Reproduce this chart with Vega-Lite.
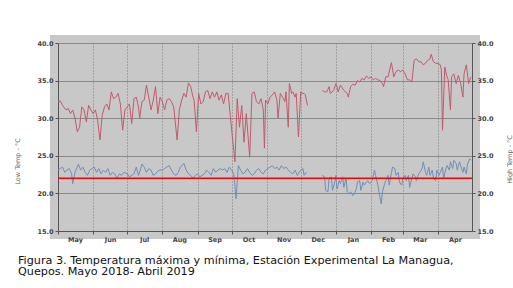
{
 "$schema": "https://vega.github.io/schema/vega-lite/v6.json",
 "width": 414,
 "height": 188,
 "autosize": {"type": "none"},
 "padding": {"left": 58, "top": 43, "right": 41, "bottom": 57},
 "background": "white",
 "view": {"fill": "#c8c8c8", "stroke": "#c8c8c8", "strokeWidth": 16},
 "title": {
  "text": ["Figura 3. Temperatura máxima y mínima, Estación Experimental La Managua,", "Quepos. Mayo 2018- Abril 2019"],
  "orient": "bottom", "anchor": "start", "frame": "group", "dx": -40, "offset": 12,
  "font": "DejaVu Sans", "fontSize": 11.2, "fontWeight": "normal", "color": "#111111", "lineHeight": 11.5, "baseline": "top"
 },
 "datasets": {
  "hi": [
   {"d":"2018-05-01","t":32.2},{"d":"2018-05-03","t":32.3},{"d":"2018-05-05","t":31.7},{"d":"2018-05-08","t":31.1},{"d":"2018-05-10","t":31.3},{"d":"2018-05-12","t":30.6},{"d":"2018-05-14","t":31.1},{"d":"2018-05-16","t":30.0},{"d":"2018-05-18","t":28.2},{"d":"2018-05-20","t":28.8},{"d":"2018-05-22","t":31.5},{"d":"2018-05-24","t":31.1},{"d":"2018-05-26","t":29.5},{"d":"2018-05-28","t":31.7},{"d":"2018-05-30","t":31.1},
   {"d":"2018-06-01","t":30.6},{"d":"2018-06-03","t":31.1},{"d":"2018-06-05","t":29.7},{"d":"2018-06-07","t":27.1},{"d":"2018-06-09","t":30.4},{"d":"2018-06-11","t":31.5},{"d":"2018-06-13","t":31.9},{"d":"2018-06-15","t":31.1},{"d":"2018-06-17","t":33.5},{"d":"2018-06-19","t":32.6},{"d":"2018-06-21","t":32.8},{"d":"2018-06-23","t":33.3},{"d":"2018-06-25","t":31.9},{"d":"2018-06-27","t":28.4},{"d":"2018-06-29","t":31.1},
   {"d":"2018-07-01","t":31.5},{"d":"2018-07-03","t":31.9},{"d":"2018-07-05","t":29.3},{"d":"2018-07-07","t":32.6},{"d":"2018-07-09","t":32.8},{"d":"2018-07-11","t":31.5},{"d":"2018-07-12","t":30.0},{"d":"2018-07-14","t":32.2},{"d":"2018-07-16","t":32.4},{"d":"2018-07-18","t":34.4},{"d":"2018-07-20","t":32.8},{"d":"2018-07-22","t":31.1},{"d":"2018-07-24","t":32.4},{"d":"2018-07-26","t":34.2},{"d":"2018-07-28","t":30.6},{"d":"2018-07-30","t":32.8},
   {"d":"2018-08-01","t":32.2},{"d":"2018-08-03","t":31.1},{"d":"2018-08-05","t":32.4},{"d":"2018-08-07","t":32.6},{"d":"2018-08-09","t":32.2},{"d":"2018-08-11","t":31.5},{"d":"2018-08-14","t":27.1},{"d":"2018-08-16","t":31.1},{"d":"2018-08-18","t":32.4},{"d":"2018-08-20","t":33.3},{"d":"2018-08-22","t":32.8},{"d":"2018-08-24","t":34.7},{"d":"2018-08-26","t":34.2},{"d":"2018-08-28","t":32.8},{"d":"2018-08-29","t":32.4},{"d":"2018-08-31","t":28.2},
   {"d":"2018-09-02","t":33.3},{"d":"2018-09-04","t":31.9},{"d":"2018-09-06","t":32.2},{"d":"2018-09-08","t":33.5},{"d":"2018-09-10","t":33.7},{"d":"2018-09-12","t":32.6},{"d":"2018-09-14","t":33.5},{"d":"2018-09-16","t":32.8},{"d":"2018-09-18","t":33.5},{"d":"2018-09-20","t":32.4},{"d":"2018-09-22","t":33.1},{"d":"2018-09-24","t":31.9},{"d":"2018-09-26","t":33.3},{"d":"2018-09-28","t":33.3},{"d":"2018-09-30","t":30.2},
   {"d":"2018-10-02","t":27.1},{"d":"2018-10-04","t":24.2},{"d":"2018-10-06","t":32.6},{"d":"2018-10-08","t":28.8},{"d":"2018-10-10","t":31.7},{"d":"2018-10-12","t":26.8},{"d":"2018-10-14","t":30.6},{"d":"2018-10-17","t":24.8},{"d":"2018-10-19","t":33.3},{"d":"2018-10-21","t":33.5},{"d":"2018-10-23","t":32.2},{"d":"2018-10-25","t":31.9},{"d":"2018-10-27","t":32.6},{"d":"2018-10-29","t":31.1},{"d":"2018-10-30","t":26.0},{"d":"2018-10-31","t":32.4},
   {"d":"2018-11-02","t":31.9},{"d":"2018-11-04","t":32.8},{"d":"2018-11-06","t":33.1},{"d":"2018-11-08","t":33.5},{"d":"2018-11-10","t":32.4},{"d":"2018-11-11","t":30.0},{"d":"2018-11-13","t":33.3},{"d":"2018-11-15","t":32.8},{"d":"2018-11-17","t":32.2},{"d":"2018-11-18","t":33.5},{"d":"2018-11-20","t":28.8},{"d":"2018-11-21","t":34.6},{"d":"2018-11-23","t":33.3},{"d":"2018-11-24","t":33.5},{"d":"2018-11-26","t":32.8},{"d":"2018-11-27","t":33.3},{"d":"2018-11-29","t":27.5},
   {"d":"2018-12-01","t":33.5},{"d":"2018-12-02","t":33.3},{"d":"2018-12-04","t":33.3},{"d":"2018-12-05","t":33.1},{"d":"2018-12-07","t":31.7},{"d":"2018-12-13","t":null},{"d":"2018-12-20","t":33.7},{"d":"2018-12-22","t":33.5},{"d":"2018-12-24","t":33.5},{"d":"2018-12-26","t":34.2},{"d":"2018-12-27","t":33.3},{"d":"2018-12-30","t":33.7},
   {"d":"2019-01-01","t":34.6},{"d":"2019-01-02","t":34.2},{"d":"2019-01-03","t":33.5},{"d":"2019-01-05","t":34.4},{"d":"2019-01-08","t":33.7},{"d":"2019-01-11","t":33.3},{"d":"2019-01-12","t":32.8},{"d":"2019-01-14","t":34.2},{"d":"2019-01-16","t":34.5},{"d":"2019-01-18","t":34.4},{"d":"2019-01-20","t":35.0},{"d":"2019-01-22","t":34.8},{"d":"2019-01-24","t":35.3},{"d":"2019-01-26","t":35.1},{"d":"2019-01-28","t":35.6},{"d":"2019-01-30","t":35.3},
   {"d":"2019-02-01","t":35.5},{"d":"2019-02-03","t":35.1},{"d":"2019-02-05","t":35.3},{"d":"2019-02-07","t":35.1},{"d":"2019-02-09","t":35.0},{"d":"2019-02-11","t":34.6},{"d":"2019-02-12","t":34.2},{"d":"2019-02-14","t":35.5},{"d":"2019-02-16","t":35.5},{"d":"2019-02-18","t":36.8},{"d":"2019-02-19","t":37.4},{"d":"2019-02-21","t":35.5},{"d":"2019-02-23","t":36.2},{"d":"2019-02-25","t":36.4},{"d":"2019-02-27","t":36.2},
   {"d":"2019-03-01","t":36.4},{"d":"2019-03-03","t":35.9},{"d":"2019-03-05","t":35.1},{"d":"2019-03-07","t":35.1},{"d":"2019-03-09","t":34.8},{"d":"2019-03-11","t":37.7},{"d":"2019-03-13","t":37.9},{"d":"2019-03-15","t":37.5},{"d":"2019-03-17","t":37.5},{"d":"2019-03-19","t":37.1},{"d":"2019-03-21","t":37.3},{"d":"2019-03-23","t":37.7},{"d":"2019-03-25","t":37.9},{"d":"2019-03-26","t":38.5},{"d":"2019-03-28","t":37.5},{"d":"2019-03-30","t":37.3},
   {"d":"2019-04-01","t":37.3},{"d":"2019-04-03","t":37.1},{"d":"2019-04-04","t":36.4},{"d":"2019-04-05","t":28.4},{"d":"2019-04-07","t":36.8},{"d":"2019-04-09","t":35.5},{"d":"2019-04-10","t":35.1},{"d":"2019-04-12","t":31.1},{"d":"2019-04-13","t":35.5},{"d":"2019-04-15","t":35.9},{"d":"2019-04-17","t":34.6},{"d":"2019-04-19","t":35.7},{"d":"2019-04-21","t":34.6},{"d":"2019-04-23","t":32.8},{"d":"2019-04-24","t":35.9},{"d":"2019-04-26","t":37.1},{"d":"2019-04-28","t":34.6},{"d":"2019-04-30","t":35.5}
  ],
  "lo": [
   {"d":"2018-05-01","t":23.1},{"d":"2018-05-03","t":23.3},{"d":"2018-05-05","t":23.5},{"d":"2018-05-07","t":22.8},{"d":"2018-05-09","t":23.1},{"d":"2018-05-11","t":23.3},{"d":"2018-05-13","t":22.6},{"d":"2018-05-14","t":21.3},{"d":"2018-05-16","t":22.8},{"d":"2018-05-19","t":23.9},{"d":"2018-05-21","t":23.1},{"d":"2018-05-23","t":23.5},{"d":"2018-05-25","t":22.8},{"d":"2018-05-27","t":22.4},{"d":"2018-05-29","t":23.1},{"d":"2018-05-31","t":23.3},
   {"d":"2018-06-02","t":23.5},{"d":"2018-06-04","t":22.8},{"d":"2018-06-06","t":23.3},{"d":"2018-06-08","t":22.6},{"d":"2018-06-10","t":23.1},{"d":"2018-06-12","t":22.8},{"d":"2018-06-14","t":23.3},{"d":"2018-06-16","t":22.4},{"d":"2018-06-18","t":22.8},{"d":"2018-06-20","t":22.6},{"d":"2018-06-22","t":22.0},{"d":"2018-06-24","t":22.6},{"d":"2018-06-26","t":22.4},{"d":"2018-06-28","t":22.8},
   {"d":"2018-07-01","t":22.6},{"d":"2018-07-03","t":22.2},{"d":"2018-07-05","t":22.4},{"d":"2018-07-07","t":22.6},{"d":"2018-07-09","t":23.5},{"d":"2018-07-11","t":22.4},{"d":"2018-07-13","t":23.3},{"d":"2018-07-14","t":23.9},{"d":"2018-07-16","t":23.5},{"d":"2018-07-18","t":22.8},{"d":"2018-07-20","t":23.3},{"d":"2018-07-22","t":23.1},{"d":"2018-07-24","t":22.4},{"d":"2018-07-26","t":22.6},{"d":"2018-07-29","t":23.1},
   {"d":"2018-08-01","t":23.1},{"d":"2018-08-03","t":23.3},{"d":"2018-08-05","t":23.5},{"d":"2018-08-07","t":23.7},{"d":"2018-08-09","t":23.1},{"d":"2018-08-11","t":22.6},{"d":"2018-08-13","t":22.4},{"d":"2018-08-15","t":22.8},{"d":"2018-08-17","t":23.5},{"d":"2018-08-20","t":24.0},{"d":"2018-08-22","t":23.1},{"d":"2018-08-24","t":22.6},{"d":"2018-08-26","t":22.4},{"d":"2018-08-28","t":22.0},{"d":"2018-08-30","t":22.4},
   {"d":"2018-09-01","t":22.6},{"d":"2018-09-03","t":22.2},{"d":"2018-09-05","t":22.4},{"d":"2018-09-07","t":22.6},{"d":"2018-09-09","t":23.1},{"d":"2018-09-11","t":22.8},{"d":"2018-09-13","t":22.4},{"d":"2018-09-15","t":23.3},{"d":"2018-09-17","t":22.8},{"d":"2018-09-19","t":23.1},{"d":"2018-09-21","t":23.3},{"d":"2018-09-23","t":23.1},{"d":"2018-09-25","t":23.3},{"d":"2018-09-27","t":22.8},{"d":"2018-09-29","t":23.5},
   {"d":"2018-10-01","t":23.1},{"d":"2018-10-03","t":22.6},{"d":"2018-10-05","t":19.3},{"d":"2018-10-07","t":23.7},{"d":"2018-10-09","t":23.1},{"d":"2018-10-11","t":22.6},{"d":"2018-10-13","t":22.8},{"d":"2018-10-15","t":23.3},{"d":"2018-10-17","t":22.8},{"d":"2018-10-19","t":22.4},{"d":"2018-10-21","t":22.6},{"d":"2018-10-23","t":23.1},{"d":"2018-10-25","t":23.3},{"d":"2018-10-27","t":22.8},{"d":"2018-10-29","t":22.6},{"d":"2018-10-31","t":23.1},
   {"d":"2018-11-02","t":23.3},{"d":"2018-11-04","t":23.5},{"d":"2018-11-06","t":23.7},{"d":"2018-11-08","t":23.3},{"d":"2018-11-10","t":23.5},{"d":"2018-11-12","t":23.1},{"d":"2018-11-14","t":23.7},{"d":"2018-11-16","t":23.3},{"d":"2018-11-18","t":23.5},{"d":"2018-11-20","t":23.1},{"d":"2018-11-22","t":22.8},{"d":"2018-11-24","t":22.6},{"d":"2018-11-26","t":23.1},{"d":"2018-11-28","t":22.4},
   {"d":"2018-12-01","t":23.1},{"d":"2018-12-03","t":23.3},{"d":"2018-12-04","t":22.4},{"d":"2018-12-06","t":22.8},{"d":"2018-12-13","t":null},{"d":"2018-12-20","t":22.4},{"d":"2018-12-22","t":22.2},{"d":"2018-12-23","t":20.4},{"d":"2018-12-25","t":20.2},{"d":"2018-12-26","t":22.0},{"d":"2018-12-28","t":22.2},{"d":"2018-12-29","t":20.4},{"d":"2018-12-31","t":21.5},
   {"d":"2019-01-01","t":22.4},{"d":"2019-01-02","t":20.6},{"d":"2019-01-04","t":21.7},{"d":"2019-01-05","t":21.3},{"d":"2019-01-07","t":22.2},{"d":"2019-01-08","t":20.8},{"d":"2019-01-10","t":22.0},{"d":"2019-01-11","t":20.2},{"d":"2019-01-13","t":19.9},{"d":"2019-01-14","t":20.2},{"d":"2019-01-16","t":19.7},{"d":"2019-01-17","t":19.9},{"d":"2019-01-19","t":20.6},{"d":"2019-01-20","t":21.5},{"d":"2019-01-22","t":21.7},{"d":"2019-01-23","t":20.4},{"d":"2019-01-25","t":21.5},{"d":"2019-01-26","t":21.1},{"d":"2019-01-29","t":21.7},{"d":"2019-01-31","t":21.3},
   {"d":"2019-02-02","t":21.7},{"d":"2019-02-04","t":23.1},{"d":"2019-02-05","t":22.4},{"d":"2019-02-07","t":21.1},{"d":"2019-02-08","t":20.2},{"d":"2019-02-10","t":18.6},{"d":"2019-02-11","t":20.2},{"d":"2019-02-13","t":21.3},{"d":"2019-02-14","t":21.7},{"d":"2019-02-16","t":22.4},{"d":"2019-02-17","t":21.1},{"d":"2019-02-19","t":22.8},{"d":"2019-02-20","t":23.5},{"d":"2019-02-22","t":23.3},{"d":"2019-02-23","t":22.4},{"d":"2019-02-25","t":22.8},{"d":"2019-02-26","t":21.5},{"d":"2019-02-28","t":21.1},
   {"d":"2019-03-01","t":22.0},{"d":"2019-03-03","t":22.4},{"d":"2019-03-04","t":21.7},{"d":"2019-03-06","t":22.4},{"d":"2019-03-07","t":20.8},{"d":"2019-03-09","t":22.0},{"d":"2019-03-10","t":22.6},{"d":"2019-03-12","t":22.2},{"d":"2019-03-13","t":21.7},{"d":"2019-03-15","t":22.6},{"d":"2019-03-16","t":22.8},{"d":"2019-03-18","t":23.3},{"d":"2019-03-19","t":24.2},{"d":"2019-03-21","t":22.8},{"d":"2019-03-22","t":22.4},{"d":"2019-03-24","t":23.5},{"d":"2019-03-25","t":22.4},{"d":"2019-03-27","t":23.1},{"d":"2019-03-28","t":22.0},{"d":"2019-03-30","t":21.7},{"d":"2019-03-31","t":23.1},
   {"d":"2019-04-02","t":22.4},{"d":"2019-04-03","t":22.8},{"d":"2019-04-05","t":23.5},{"d":"2019-04-06","t":22.0},{"d":"2019-04-08","t":23.3},{"d":"2019-04-09","t":23.7},{"d":"2019-04-11","t":23.1},{"d":"2019-04-12","t":24.2},{"d":"2019-04-14","t":23.3},{"d":"2019-04-15","t":24.4},{"d":"2019-04-17","t":24.0},{"d":"2019-04-18","t":23.1},{"d":"2019-04-20","t":24.2},{"d":"2019-04-21","t":23.7},{"d":"2019-04-23","t":22.8},{"d":"2019-04-24","t":23.5},{"d":"2019-04-26","t":22.6},{"d":"2019-04-27","t":23.9},{"d":"2019-04-29","t":24.6},{"d":"2019-04-30","t":24.4}
  ]
 },
 "layer": [
  {
   "data": {"name": "hi"},
   "mark": {"type": "line", "color": "#c25a6c", "strokeWidth": 1, "invalid": "break-paths-show-domains", "clip": true},
   "encoding": {
    "x": {"field": "d", "type": "temporal",
     "scale": {"type": "utc", "domain": [{"year": 2018, "month": 5, "date": 1, "utc": true}, {"year": 2019, "month": 5, "date": 1, "utc": true}]},
     "axis": {"title": null, "format": "%b", "labelOffset": 17, "labelFlush": false, "labelOverlap": false,
      "values": [{"year": 2018, "month": 5, "date": 1, "utc": true}, {"year": 2018, "month": 6, "date": 1, "utc": true}, {"year": 2018, "month": 7, "date": 1, "utc": true}, {"year": 2018, "month": 8, "date": 1, "utc": true}, {"year": 2018, "month": 9, "date": 1, "utc": true}, {"year": 2018, "month": 10, "date": 1, "utc": true}, {"year": 2018, "month": 11, "date": 1, "utc": true}, {"year": 2018, "month": 12, "date": 1, "utc": true}, {"year": 2019, "month": 1, "date": 1, "utc": true}, {"year": 2019, "month": 2, "date": 1, "utc": true}, {"year": 2019, "month": 3, "date": 1, "utc": true}, {"year": 2019, "month": 4, "date": 1, "utc": true}],
      "grid": true, "gridColor": "#7a7a7a", "gridDash": [1, 2], "gridWidth": 1,
      "labelFontSize": 6.5, "labelFontWeight": "bold", "labelColor": "#444444", "labelPadding": 2,
      "tickSize": 3, "tickColor": "#555555", "domainColor": "#555555"}
    },
    "y": {"field": "t", "type": "quantitative",
     "scale": {"domain": [15, 40], "nice": false, "zero": false},
     "axis": {"orient": "right", "values": [15, 20, 25, 30, 35, 40], "format": ".1f", "grid": false,
      "labelFontSize": 6.5, "labelFontWeight": "bold", "labelColor": "#444444", "labelPadding": 2,
      "tickSize": 3, "tickColor": "#555555", "domainColor": "#555555",
      "title": "High Temp - °C", "titleFontSize": 6.5, "titleFontWeight": "normal", "titleColor": "#666666",
      "titleAngle": 270, "titleX": 37, "titleY": 116, "titleBaseline": "middle", "titleAlign": "center"}
    }
   }
  },
  {
   "data": {"name": "lo"},
   "mark": {"type": "line", "color": "#6f8fb8", "strokeWidth": 1, "invalid": "break-paths-show-domains", "clip": true},
   "encoding": {
    "x": {"field": "d", "type": "temporal",
     "scale": {"type": "utc", "domain": [{"year": 2018, "month": 5, "date": 1, "utc": true}, {"year": 2019, "month": 5, "date": 1, "utc": true}]},
     "axis": {"title": null, "format": "%b", "labelOffset": 17, "labelFlush": false, "labelOverlap": false,
      "values": [{"year": 2018, "month": 5, "date": 1, "utc": true}, {"year": 2018, "month": 6, "date": 1, "utc": true}, {"year": 2018, "month": 7, "date": 1, "utc": true}, {"year": 2018, "month": 8, "date": 1, "utc": true}, {"year": 2018, "month": 9, "date": 1, "utc": true}, {"year": 2018, "month": 10, "date": 1, "utc": true}, {"year": 2018, "month": 11, "date": 1, "utc": true}, {"year": 2018, "month": 12, "date": 1, "utc": true}, {"year": 2019, "month": 1, "date": 1, "utc": true}, {"year": 2019, "month": 2, "date": 1, "utc": true}, {"year": 2019, "month": 3, "date": 1, "utc": true}, {"year": 2019, "month": 4, "date": 1, "utc": true}],
      "grid": true, "gridColor": "#7a7a7a", "gridDash": [1, 2], "gridWidth": 1,
      "labelFontSize": 6.5, "labelFontWeight": "bold", "labelColor": "#444444", "labelPadding": 2,
      "tickSize": 3, "tickColor": "#555555", "domainColor": "#555555"}
    },
    "y": {"field": "t", "type": "quantitative",
     "scale": {"domain": [15, 40], "nice": false, "zero": false},
     "axis": {"orient": "left", "values": [15, 20, 25, 30, 35, 40], "format": ".1f",
      "grid": true, "gridColor": "#8a8a8a", "gridWidth": 1,
      "labelFontSize": 6.5, "labelFontWeight": "bold", "labelColor": "#444444", "labelPadding": 2,
      "tickSize": 3, "tickColor": "#555555", "domainColor": "#555555",
      "title": "Low Temp - °C", "titleFontSize": 6.5, "titleFontWeight": "normal", "titleColor": "#666666",
      "titleAngle": 270, "titleX": -41, "titleY": 118, "titleBaseline": "middle", "titleAlign": "center"}
    }
   }
  },
  {
   "data": {"values": [{"ref": 22}]},
   "mark": {"type": "rule", "color": "#ff0000", "strokeWidth": 1.5},
   "encoding": {
    "y": {"field": "ref", "type": "quantitative", "scale": {"domain": [15, 40], "nice": false, "zero": false}, "axis": null}
   }
  }
 ],
 "resolve": {"axis": {"y": "independent"}},
 "config": {"font": "DejaVu Sans"}
}
